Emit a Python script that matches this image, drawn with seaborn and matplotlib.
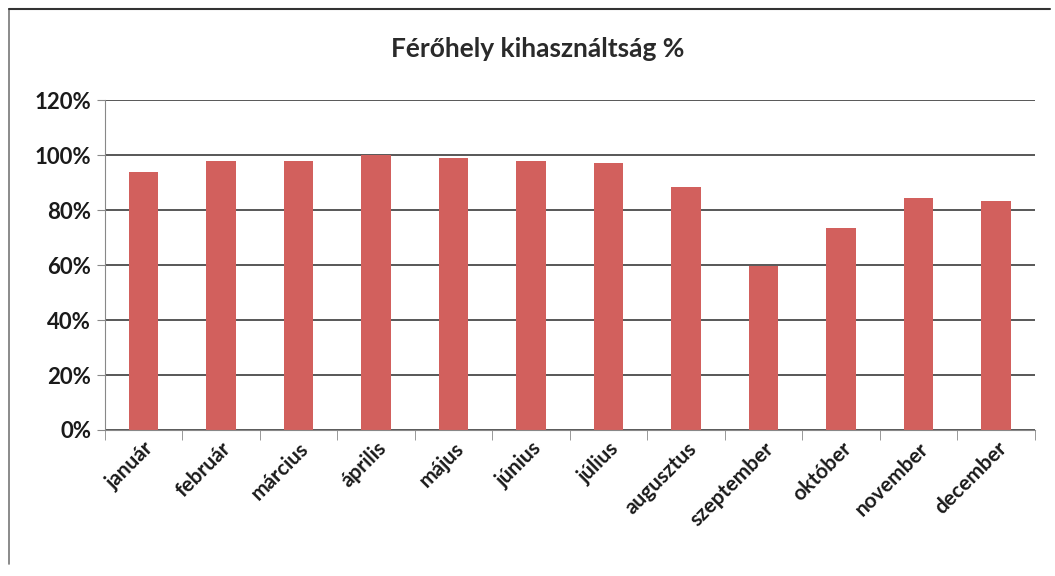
import numpy as np
import pandas as pd
import matplotlib
matplotlib.use("Agg")
import matplotlib.pyplot as plt
import seaborn as sns
from matplotlib.ticker import PercentFormatter, FixedLocator

# Data
months = ['január', 'február', 'március', 'április', 'május', 'június',
          'július', 'augusztus', 'szeptember', 'október', 'november', 'december']
occupancy = [94, 98, 98, 100, 99, 98, 97, 88.5, 59.5, 73.5, 84.5, 83.5]
yticks = [0, 20, 40, 60, 80, 100, 120]

df = pd.DataFrame({'honap': months, 'kihasznaltsag': occupancy})

sns.set_style("white")
plt.rcParams['font.family'] = ['Lato', 'DejaVu Sans']

fig = plt.figure(figsize=(10.55, 5.76), dpi=100)
ax = fig.add_axes([0.0995, 0.2535, 0.8815, 0.5725])

sns.barplot(data=df, x='honap', y='kihasznaltsag', color='#D2605D',
            saturation=1, width=0.38, linewidth=0, ax=ax)

ax.set_ylim(0, 120)
ax.set_yticks(yticks)
ax.yaxis.set_major_formatter(PercentFormatter(decimals=0))
ax.yaxis.grid(True, color='#4a4a4a', linewidth=1.3)
ax.set_axisbelow(True)
ax.set_xlim(-0.5, len(months) - 0.5)

for s in ['top', 'right']:
    ax.spines[s].set_visible(False)
ax.spines['left'].set_color('#888888')
ax.spines['bottom'].set_color('#888888')

# Excel-like tick marks between categories
ax.xaxis.set_minor_locator(FixedLocator(np.arange(-0.5, len(months), 1)))
ax.tick_params(axis='x', which='minor', length=7, color='#888888', bottom=True)
ax.tick_params(axis='x', which='major', length=0, pad=6)
ax.tick_params(axis='y', length=6, color='#888888', left=True, pad=4)

ax.set_xticks(range(len(months)))
ax.set_xticklabels(months, rotation=45, ha='right', rotation_mode='anchor',
                   fontsize=15, fontweight='bold', color='#1a1a1a')
for lbl in ax.get_yticklabels():
    lbl.set_fontsize(16)
    lbl.set_fontweight('bold')
    lbl.set_color('#1a1a1a')

ax.set_xlabel('')
ax.set_ylabel('')

fig.text(0.51, 0.915, 'Férőhely kihasználtság %', ha='center', va='center',
         fontsize=19, fontweight='bold', color='#2a2a2a')

# chart frame
fig.add_artist(plt.Line2D([0.009, 0.009], [0.02, 0.985], color='#777777', lw=1.2))
fig.add_artist(plt.Line2D([0.009, 0.995], [0.985, 0.985], color='#333333', lw=1.5))

fig.savefig('out.png', dpi=100)
